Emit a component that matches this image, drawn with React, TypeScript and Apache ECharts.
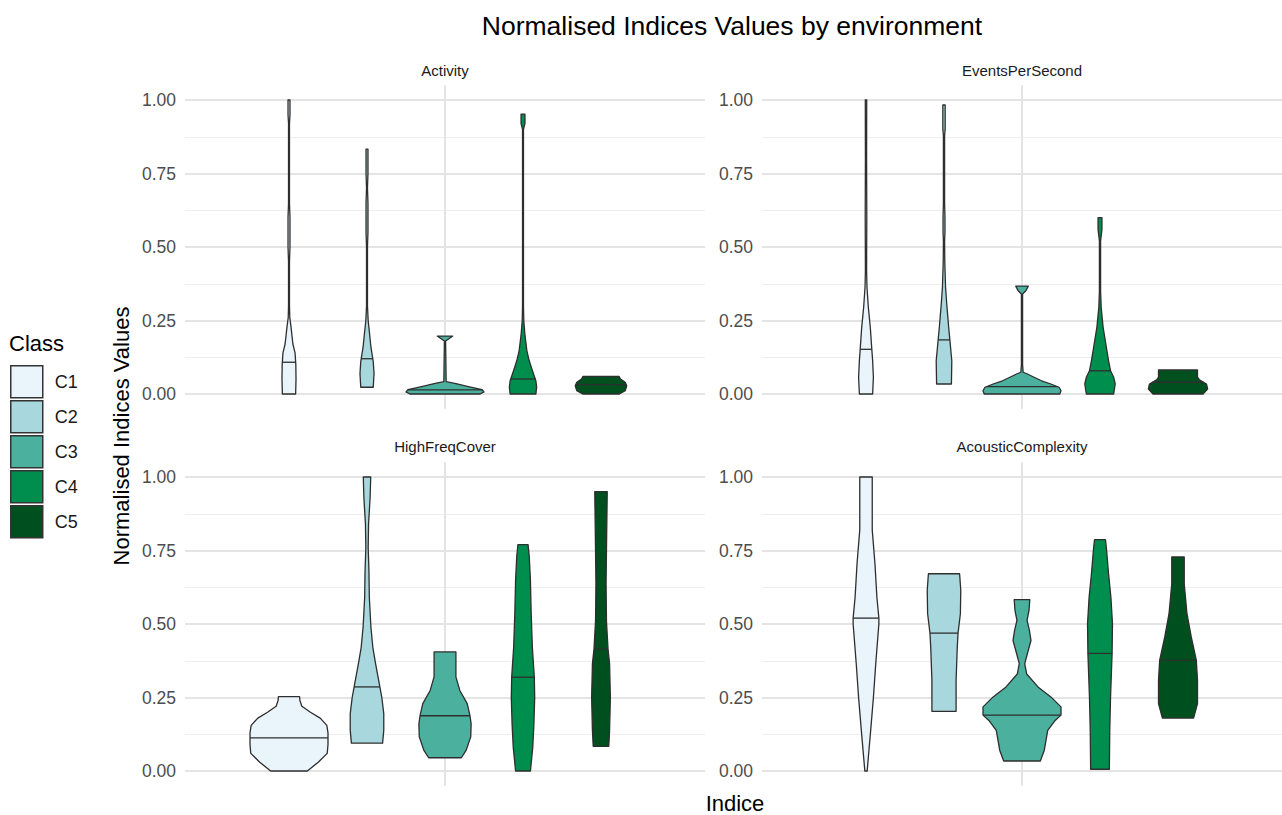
import React, { useEffect, useRef } from "react";
import * as echarts from "echarts";

const FONT = "'Liberation Sans', Arial, sans-serif";

const CLASSES = ["C1", "C2", "C3", "C4", "C5"];
const COLORS = ["#eaf4fb", "#a8d8de", "#4bb09e", "#008e4f", "#00501f"];
const PANELS = ["Activity", "EventsPerSecond", "HighFreqCover", "AcousticComplexity"];
const Y_TICKS = [0, 0.25, 0.5, 0.75, 1];

// violin profiles: [value, relative half-width (1 = full dodge slot)]
const ACTIVITY_PROFILES: number[][][] = [
  [[0, 0.17], [0.05, 0.18], [0.1, 0.175], [0.14, 0.155], [0.17, 0.1], [0.2, 0.075], [0.23, 0.05], [0.26, 0.02], [0.3, 0.012], [0.45, 0.012], [0.5, 0.025], [0.6, 0.025], [0.65, 0.012], [0.92, 0.012], [0.95, 0.025], [1.0, 0.025]],
  [[0.023, 0.16], [0.07, 0.18], [0.11, 0.16], [0.16, 0.1], [0.2, 0.07], [0.25, 0.03], [0.3, 0.012], [0.5, 0.012], [0.55, 0.025], [0.65, 0.025], [0.7, 0.012], [0.75, 0.025], [0.833, 0.025]],
  [[0, 0.9], [0.007, 1.0], [0.015, 0.95], [0.025, 0.6], [0.035, 0.28], [0.042, 0.03], [0.18, 0.015], [0.188, 0.1], [0.197, 0.2]],
  [[0, 0.33], [0.023, 0.35], [0.045, 0.33], [0.08, 0.24], [0.113, 0.16], [0.147, 0.1], [0.2, 0.05], [0.25, 0.02], [0.3, 0.012], [0.9, 0.012], [0.92, 0.05], [0.952, 0.05]],
  [[0, 0.47], [0.011, 0.62], [0.028, 0.66], [0.04, 0.62], [0.051, 0.5], [0.06, 0.46]],
];
const ACTIVITY_MEDIANS = [0.108, 0.12, 0.014, 0.051, 0.032];

const EVENTS_PROFILES: number[][][] = [
  [[0, 0.17], [0.057, 0.19], [0.113, 0.17], [0.15, 0.15], [0.227, 0.11], [0.295, 0.06], [0.363, 0.025], [0.42, 0.015], [0.6, 0.02], [0.8, 0.015], [1.0, 0.018]],
  [[0.034, 0.19], [0.113, 0.2], [0.184, 0.15], [0.227, 0.12], [0.306, 0.07], [0.363, 0.04], [0.45, 0.02], [0.52, 0.015], [0.55, 0.025], [0.6, 0.025], [0.65, 0.015], [0.88, 0.015], [0.9, 0.03], [0.983, 0.03]],
  [[0, 0.97], [0.011, 1.0], [0.023, 0.95], [0.034, 0.74], [0.045, 0.5], [0.057, 0.31], [0.068, 0.14], [0.074, 0.03], [0.1, 0.015], [0.34, 0.015], [0.351, 0.1], [0.367, 0.16]],
  [[0, 0.35], [0.034, 0.39], [0.057, 0.35], [0.079, 0.27], [0.113, 0.22], [0.17, 0.15], [0.227, 0.08], [0.295, 0.03], [0.35, 0.015], [0.52, 0.015], [0.56, 0.05], [0.6, 0.05]],
  [[0, 0.64], [0.017, 0.76], [0.034, 0.73], [0.048, 0.55], [0.057, 0.5], [0.082, 0.5]],
];
const EVENTS_MEDIANS = [0.152, 0.184, 0.025, 0.079, 0.04];

const HIGHFREQ_PROFILES: number[][][] = [
  [[0, 0.47], [0.03, 0.75], [0.06, 0.98], [0.09, 1.0], [0.13, 1.0], [0.155, 0.97], [0.18, 0.8], [0.2, 0.55], [0.22, 0.33], [0.24, 0.28], [0.253, 0.27]],
  [[0.095, 0.4], [0.138, 0.43], [0.195, 0.43], [0.25, 0.38], [0.286, 0.33], [0.365, 0.22], [0.42, 0.15], [0.49, 0.1], [0.59, 0.06], [0.68, 0.05], [0.76, 0.03], [0.84, 0.04], [0.93, 0.08], [1.0, 0.095]],
  [[0.045, 0.42], [0.07, 0.54], [0.116, 0.66], [0.16, 0.67], [0.188, 0.64], [0.229, 0.57], [0.274, 0.38], [0.32, 0.28], [0.405, 0.28]],
  [[0, 0.19], [0.08, 0.25], [0.16, 0.28], [0.25, 0.3], [0.32, 0.29], [0.42, 0.24], [0.535, 0.21], [0.65, 0.19], [0.73, 0.16], [0.77, 0.13]],
  [[0.084, 0.2], [0.138, 0.22], [0.25, 0.24], [0.365, 0.22], [0.415, 0.18], [0.51, 0.14], [0.637, 0.13], [0.75, 0.14], [0.95, 0.16]],
];
const HIGHFREQ_MEDIANS = [0.113, 0.286, 0.188, 0.319, 0.415];

const ACOUSTIC_PROFILES: number[][][] = [
  [[0, 0.03], [0.138, 0.12], [0.25, 0.19], [0.365, 0.25], [0.5, 0.33], [0.52, 0.33], [0.59, 0.28], [0.705, 0.23], [0.82, 0.16], [1.0, 0.16]],
  [[0.203, 0.31], [0.308, 0.31], [0.42, 0.34], [0.469, 0.36], [0.535, 0.42], [0.615, 0.43], [0.671, 0.4]],
  [[0.034, 0.47], [0.07, 0.57], [0.138, 0.66], [0.172, 0.85], [0.19, 1.0], [0.218, 1.0], [0.252, 0.74], [0.286, 0.41], [0.33, 0.12], [0.365, 0.07], [0.41, 0.16], [0.444, 0.23], [0.478, 0.19], [0.512, 0.13], [0.546, 0.18], [0.583, 0.2]],
  [[0.006, 0.24], [0.138, 0.25], [0.25, 0.27], [0.4, 0.31], [0.5, 0.32], [0.59, 0.28], [0.67, 0.22], [0.75, 0.17], [0.787, 0.14]],
  [[0.18, 0.4], [0.229, 0.5], [0.308, 0.5], [0.376, 0.47], [0.456, 0.34], [0.535, 0.23], [0.637, 0.16], [0.728, 0.16]],
];
const ACOUSTIC_MEDIANS = [0.52, 0.469, 0.19, 0.4, 0.376];

const PANEL_PROFILES = [ACTIVITY_PROFILES, EVENTS_PROFILES, HIGHFREQ_PROFILES, ACOUSTIC_PROFILES];
const PANEL_MEDIANS = [ACTIVITY_MEDIANS, EVENTS_MEDIANS, HIGHFREQ_MEDIANS, ACOUSTIC_MEDIANS];

const X_CENTER = 0.6;
const SLOT = 0.18;

function widthAt(profile: number[][], v: number): number {
  for (let i = 0; i < profile.length - 1; i++) {
    const [v0, w0] = profile[i];
    const [v1, w1] = profile[i + 1];
    if (v >= v0 && v <= v1) {
      const t = v1 === v0 ? 0 : (v - v0) / (v1 - v0);
      return w0 + (w1 - w0) * t;
    }
  }
  return profile[profile.length - 1][1];
}

export default function App() {
  const ref = useRef<HTMLDivElement>(null);
  useEffect(() => {
    if (!ref.current) return;
    const chart = echarts.init(ref.current, null, { renderer: "svg" });

    const grids = [
      { left: 185, top: 100, width: 520, height: 294 },
      { left: 762, top: 100, width: 520, height: 294 },
      { left: 185, top: 477, width: 520, height: 294 },
      { left: 762, top: 477, width: 520, height: 294 },
    ];

    const xAxes = grids.map((_, i) => ({
      type: "value",
      gridIndex: i,
      min: 0,
      max: 1.2,
      interval: 0.6,
      axisLabel: { show: false },
      axisTick: { show: false },
      axisLine: { show: false },
      splitLine: { show: false },
    }));

    const yAxes = grids.map((_, i) => ({
      type: "value",
      gridIndex: i,
      min: Y_TICKS[0],
      max: Y_TICKS[Y_TICKS.length - 1],
      interval: 0.25,
      axisLabel: {
        formatter: (v: number) => v.toFixed(2),
        color: "#4d4d4d",
        fontSize: 17.5,
        fontFamily: FONT,
        margin: 9,
      },
      axisTick: { show: false },
      axisLine: { show: false },
      splitLine: { lineStyle: { color: "#e4e4e4", width: 2 } },
      minorTick: { show: false, splitNumber: 2 },
      minorSplitLine: { show: true, lineStyle: { color: "#eeeeee", width: 1.2 } },
    }));

    const series: any[] = [];
    grids.forEach((_, p) => {
      series.push({
        type: "custom",
        xAxisIndex: p,
        yAxisIndex: p,
        silent: true,
        clip: false,
        z: 1,
        data: [[X_CENTER]],
        renderItem: (params: any, api: any) => {
          const a = api.coord([X_CENTER, -0.05]);
          const b = api.coord([X_CENTER, 1.05]);
          return {
            type: "line",
            shape: { x1: a[0], y1: a[1], x2: b[0], y2: b[1] },
            style: { stroke: "#e4e4e4", lineWidth: 2 },
          };
        },
      });
      CLASSES.forEach((name, k) => {
        const profile = PANEL_PROFILES[p][k];
        const median = PANEL_MEDIANS[p][k];
        const cx = X_CENTER + (k - 2) * SLOT;
        series.push({
          type: "custom",
          name,
          xAxisIndex: p,
          yAxisIndex: p,
          itemStyle: { color: COLORS[k], borderColor: "#333333", borderWidth: 1 },
          z: 3,
          clip: false,
          data: [[cx, median]],
          encode: { x: 0, y: 1 },
          renderItem: (params: any, api: any) => {
            const half = SLOT / 2;
            const right = profile.map(([v, w]) => api.coord([cx + w * half, v]));
            const left = profile
              .slice()
              .reverse()
              .map(([v, w]) => api.coord([cx - w * half, v]));
            const mw = widthAt(profile, median);
            const m1 = api.coord([cx - mw * half, median]);
            const m2 = api.coord([cx + mw * half, median]);
            return {
              type: "group",
              children: [
                {
                  type: "polygon",
                  shape: { points: [...right, ...left] },
                  style: { fill: COLORS[k], stroke: "#2e2e2e", lineWidth: 1.3, lineJoin: "round" },
                },
                {
                  type: "line",
                  shape: { x1: m1[0], y1: m1[1], x2: m2[0], y2: m2[1] },
                  style: { stroke: "#2e2e2e", lineWidth: 1.3 },
                },
              ],
            };
          },
        });
      });
    });

    const stripPos = [
      [445, 70],
      [1022, 70],
      [445, 446],
      [1022, 446],
    ];

    const graphic: any[] = [
      {
        type: "text",
        x: 732,
        y: 26,
        style: {
          text: "Normalised Indices Values by environment",
          fontSize: 26.5,
          fontFamily: FONT,
          fill: "#000000",
          textAlign: "center",
          textVerticalAlign: "middle",
        },
      },
      ...PANELS.map((t, i) => ({
        type: "text",
        x: stripPos[i][0],
        y: stripPos[i][1],
        style: {
          text: t,
          fontSize: 15,
          fontFamily: FONT,
          fill: "#1a1a1a",
          textAlign: "center",
          textVerticalAlign: "middle",
        },
      })),
      {
        type: "text",
        x: 735,
        y: 803,
        style: {
          text: "Indice",
          fontSize: 22,
          fontFamily: FONT,
          fill: "#000000",
          textAlign: "center",
          textVerticalAlign: "middle",
        },
      },
      {
        type: "text",
        x: 121,
        y: 436,
        rotation: Math.PI / 2,
        style: {
          text: "Normalised Indices Values",
          fontSize: 22,
          fontFamily: FONT,
          fill: "#000000",
          textAlign: "center",
          textVerticalAlign: "middle",
        },
      },
      {
        type: "text",
        x: 9,
        y: 343,
        style: {
          text: "Class",
          fontSize: 22,
          fontFamily: FONT,
          fill: "#000000",
          textAlign: "left",
          textVerticalAlign: "middle",
        },
      },
    ];

    chart.setOption({
      animation: false,
      backgroundColor: "#ffffff",
      grid: grids,
      xAxis: xAxes,
      yAxis: yAxes,
      legend: {
        data: CLASSES,
        orient: "vertical",
        left: 5,
        top: 360,
        itemWidth: 32,
        itemHeight: 32,
        itemGap: 1.5,
        icon: "rect",
        selectedMode: false,
        itemStyle: { borderColor: "#333333", borderWidth: 1.5 },
        textStyle: { fontSize: 18, color: "#1a1a1a", fontFamily: FONT, padding: [0, 0, 0, 7] },
      },
      graphic,
      series,
    });

    return () => chart.dispose();
  }, []);

  return (
    <div
      ref={ref}
      style={{ position: "fixed", left: 0, top: 0, width: 1282, height: 815, background: "#fff" }}
    />
  );
}
